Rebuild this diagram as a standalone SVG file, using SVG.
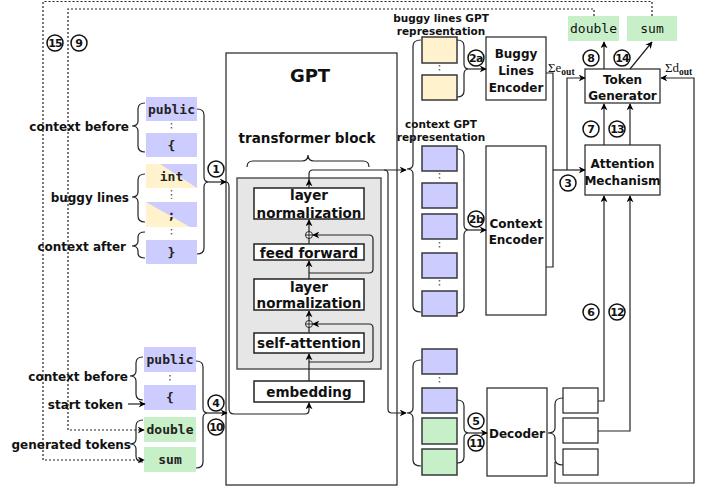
<svg xmlns="http://www.w3.org/2000/svg" width="715" height="491" viewBox="0 0 715 491">
<defs>
<marker id="ah" viewBox="0 0 10 10" refX="9" refY="5" markerWidth="7" markerHeight="7" orient="auto" markerUnits="userSpaceOnUse"><path d="M0,0 L10,5 L0,10 L3,5 z" fill="#000"/></marker>
<style>
.lbl{font-family:"DejaVu Sans",Verdana,sans-serif;font-weight:bold;fill:#111}
.code{font-family:"DejaVu Sans Mono","Liberation Mono",monospace;font-size:13px;fill:#111}
.codeb{font-family:"DejaVu Sans Mono","Liberation Mono",monospace;font-size:13px;font-weight:bold;fill:#222}
.ln{fill:none;stroke:#222;stroke-width:1.2}
.arr{fill:none;stroke:#222;stroke-width:1.2;marker-end:url(#ah)}
.dot{fill:none;stroke:#222;stroke-width:1.2;stroke-dasharray:2 2}
.vd{stroke:#666;stroke-width:1.5;stroke-dasharray:1.5 2.5}
.blue{fill:#CCCCFF}
.yel{fill:#FFF2CC}
.grn{fill:#C8F0C8}
.rep{stroke:#36393D;stroke-width:1.5}
.blk{fill:#fff;stroke:#222;stroke-width:1.5}
.box{fill:#fff;stroke:#222;stroke-width:1.2}
.num circle{fill:#fff;stroke:#111;stroke-width:1.5}
.num text{font-family:"DejaVu Sans",sans-serif;font-weight:bold;font-size:11px;fill:#111;text-anchor:middle}
</style>
</defs>

<!-- GPT -->
<g id="gpt">
<rect x="226" y="53" width="171" height="432" class="box"/>
<text x="310" y="82" class="lbl" font-size="18" text-anchor="middle">GPT</text>
<text x="307" y="143" class="lbl" font-size="13.5" text-anchor="middle">transformer block</text>
<path d="M247,167 Q247,161 253,161 L302,161 Q308,161 308,155 Q308,161 314,161 L363,161 Q369,161 369,167" class="ln"/>
</g>
<g id="transformer-block">
<rect x="237" y="178" width="144" height="191" fill="#E6E6E6" stroke="#555" stroke-width="1.5"/>
</g>
<g id="layer-norm-1">
<rect x="254" y="188" width="110" height="31" class="blk"/>
<text x="309" y="200" class="lbl" font-size="13.5" text-anchor="middle">layer</text>
<text x="309" y="218" class="lbl" font-size="13.5" text-anchor="middle">normalization</text>
</g>
<g id="feed-forward">
<rect x="254" y="244" width="110" height="16" class="blk"/>
<text x="309" y="257.5" class="lbl" font-size="13.5" text-anchor="middle">feed forward</text>
</g>
<g id="layer-norm-2">
<rect x="254" y="279" width="110" height="31" class="blk"/>
<text x="309" y="292" class="lbl" font-size="13.5" text-anchor="middle">layer</text>
<text x="309" y="308" class="lbl" font-size="13.5" text-anchor="middle">normalization</text>
</g>
<g id="self-attention">
<rect x="254" y="333" width="110" height="20" class="blk"/>
<text x="309" y="348" class="lbl" font-size="13.5" text-anchor="middle">self-attention</text>
</g>
<g id="embedding">
<rect x="254" y="381" width="110" height="21" class="blk"/>
<text x="309" y="397" class="lbl" font-size="13.5" text-anchor="middle">embedding</text>
</g>
<g id="add-1"><circle cx="309" cy="324" r="3.5" fill="#fff" stroke="#222" stroke-width="1"/><path d="M305.5,324 H312.5 M309,320.5 V327.5" stroke="#222" stroke-width="1"/></g>
<g id="add-2"><circle cx="309" cy="235" r="3.5" fill="#fff" stroke="#222" stroke-width="1"/><path d="M305.5,235 H312.5 M309,231.5 V238.5" stroke="#222" stroke-width="1"/></g>

<!-- input tokens top -->
<g id="input-top">
<rect x="146" y="97" width="51" height="24" class="blue"/>
<text x="171.5" y="113.5" class="codeb" text-anchor="middle">public</text>
<line x1="171.5" y1="123" x2="171.5" y2="131" class="vd"/>
<rect x="146" y="133" width="51" height="24" class="blue"/>
<text x="171.5" y="149.5" class="codeb" text-anchor="middle">{</text>
<polygon points="146,164 197,164 197,188 146,188" class="yel"/>
<polygon points="160,164 197,164 197,188" class="blue"/>
<text x="171.5" y="180.5" class="codeb" text-anchor="middle">int</text>
<line x1="171.5" y1="190" x2="171.5" y2="199" class="vd"/>
<polygon points="146,202 197,202 197,227 146,227" class="blue"/>
<polygon points="146,202 190,227 146,227" class="yel"/>
<text x="171.5" y="219" class="codeb" text-anchor="middle">;</text>
<line x1="171.5" y1="229" x2="171.5" y2="237" class="vd"/>
<rect x="146" y="240" width="51" height="24" class="blue"/>
<text x="171.5" y="256.5" class="codeb" text-anchor="middle">}</text>
<text x="129" y="131" class="lbl" font-size="12" text-anchor="end">context before</text>
<text x="129" y="201.5" class="lbl" font-size="12" text-anchor="end">buggy lines</text>
<text x="126" y="250.5" class="lbl" font-size="12" text-anchor="end">context after</text>
<path d="M145,103 Q138,103 138,109 L138,121 Q138,126 132,126 Q138,126 138,131 L138,146 Q138,152 145,152" class="ln"/>
<path d="M145,174 Q138,174 138,180 L138,192 Q138,197 132,197 Q138,197 138,202 L138,216 Q138,222 145,222" class="ln"/>
<path d="M145,232 Q138,232 138,237 L138,241 Q138,246 132,246 Q138,246 138,251 L138,253 Q138,258 145,258" class="ln"/>
</g>

<!-- input tokens bottom -->
<g id="input-bottom">
<rect x="144" y="347" width="52" height="25" class="blue"/>
<text x="170" y="364" class="codeb" text-anchor="middle">public</text>
<line x1="170" y1="375" x2="170" y2="383" class="vd"/>
<rect x="144" y="385" width="52" height="25" class="blue"/>
<text x="170" y="402" class="codeb" text-anchor="middle">{</text>
<rect x="144" y="417" width="52" height="25" class="grn"/>
<text x="170" y="434" class="codeb" text-anchor="middle">double</text>
<rect x="144" y="447" width="52" height="25" class="grn"/>
<text x="170" y="464" class="codeb" text-anchor="middle">sum</text>
<text x="128" y="380.5" class="lbl" font-size="12" text-anchor="end">context before</text>
<text x="123" y="408.5" class="lbl" font-size="12" text-anchor="end">start token</text>
<text x="131" y="448.5" class="lbl" font-size="12" text-anchor="end">generated tokens</text>
<path d="M143,357 Q136,357 136,363 L136,371 Q136,376 130,376 Q136,376 136,381 L136,394 Q136,400 143,400" class="ln"/>
<path d="M143,420 Q136,420 136,426 L136,439 Q136,444 130,444 Q136,444 136,449 L136,456 Q136,462 143,462" class="ln"/>
</g>

<!-- GPT representations -->
<g id="buggy-rep">
<text x="441" y="22" class="lbl" font-size="10.5" text-anchor="middle">buggy lines GPT</text>
<text x="441" y="35" class="lbl" font-size="10.5" text-anchor="middle">representation</text>
<rect x="422" y="37" width="35" height="26" class="yel rep"/>
<line x1="439.5" y1="65" x2="439.5" y2="73" class="vd"/>
<rect x="422" y="75" width="35" height="25" class="yel rep"/>
</g>
<g id="context-rep">
<text x="441" y="128" class="lbl" font-size="10.5" text-anchor="middle">context GPT</text>
<text x="441" y="141" class="lbl" font-size="10.5" text-anchor="middle">representation</text>
<rect x="422" y="146" width="35" height="25" class="blue rep"/>
<line x1="439.5" y1="173" x2="439.5" y2="181" class="vd"/>
<rect x="422" y="183" width="35" height="25" class="blue rep"/>
<rect x="422" y="214" width="35" height="25" class="blue rep"/>
<line x1="439.5" y1="242" x2="439.5" y2="250" class="vd"/>
<rect x="422" y="253" width="35" height="25" class="blue rep"/>
<line x1="439.5" y1="280" x2="439.5" y2="288" class="vd"/>
<rect x="422" y="291" width="35" height="25" class="blue rep"/>
</g>
<g id="decoder-rep">
<rect x="422" y="349" width="35" height="25" class="blue rep"/>
<line x1="439.5" y1="377" x2="439.5" y2="385" class="vd"/>
<rect x="422" y="388" width="35" height="25" class="blue rep"/>
<rect x="422" y="418" width="35" height="26" class="grn rep"/>
<rect x="422" y="449" width="35" height="26" class="grn rep"/>
</g>

<!-- encoders / decoder -->
<g id="buggy-lines-encoder">
<rect x="486" y="37" width="60" height="63" class="box"/>
<text x="516" y="58" class="lbl" font-size="12" text-anchor="middle">Buggy</text>
<text x="516" y="75" class="lbl" font-size="12" text-anchor="middle">Lines</text>
<text x="516" y="92" class="lbl" font-size="12" text-anchor="middle">Encoder</text>
</g>
<g id="context-encoder">
<rect x="486" y="146" width="60" height="169" class="box"/>
<text x="516" y="228" class="lbl" font-size="12" text-anchor="middle">Context</text>
<text x="516" y="244" class="lbl" font-size="12" text-anchor="middle">Encoder</text>
</g>
<g id="decoder">
<rect x="487" y="388" width="60" height="88" class="box"/>
<text x="517" y="437.5" class="lbl" font-size="12" text-anchor="middle">Decoder</text>
</g>
<g id="decoder-out">
<rect x="563" y="388" width="35" height="25" class="box"/>
<rect x="563" y="418" width="35" height="25" class="box"/>
<rect x="563" y="449" width="35" height="26" class="box"/>
</g>
<g id="attention-mechanism">
<rect x="585" y="145" width="75" height="50" class="box"/>
<text x="622.5" y="168" class="lbl" font-size="12" text-anchor="middle">Attention</text>
<text x="622.5" y="185" class="lbl" font-size="12" text-anchor="middle">Mechanism</text>
</g>
<g id="token-generator">
<rect x="585" y="69" width="75" height="34" class="box"/>
<text x="622.5" y="84" class="lbl" font-size="12" text-anchor="middle">Token</text>
<text x="622.5" y="100" class="lbl" font-size="12" text-anchor="middle">Generator</text>
</g>
<g id="out-double">
<rect x="568" y="16" width="51" height="25" class="grn"/>
<text x="593.5" y="33" class="code" text-anchor="middle">double</text>
</g>
<g id="out-sum">
<rect x="627" y="16" width="50" height="25" class="grn"/>
<text x="652" y="33" class="code" text-anchor="middle">sum</text>
</g>

<!-- connectors -->
<g id="connectors">
<path d="M197,109 Q204,109 204,115 L204,177 Q204,182 209,182 Q204,182 204,187 L204,248 Q204,254 197,254" class="ln"/>
<path d="M209,182 L226,182" class="arr"/>
<path d="M196,361 Q203,361 203,367 L203,408 Q203,413 208,413 Q203,413 203,418 L203,462 Q203,468 196,468" class="ln"/>
<path d="M208,413 L227,413" class="arr"/>
<path d="M226,182 Q229,182 229,187 L229,409 Q229,414 234,414 L305,414 Q309,414 309,410 L309,403" class="arr"/>
<path d="M309,381 L309,354" class="arr"/>
<path d="M309,362 L369,362 Q373,362 373,358 L373,328 Q373,324 369,324 L313,324" class="arr"/>
<path d="M309,333 L309,327.5" class="ln"/>
<path d="M309,320.5 L309,311" class="arr"/>
<path d="M309,279 L309,261" class="arr"/>
<path d="M309,273 L369,273 Q373,273 373,269 L373,239 Q373,235 369,235 L313,235" class="arr"/>
<path d="M309,244 L309,238.5" class="ln"/>
<path d="M309,231.5 L309,220" class="arr"/>
<path d="M309,188 L309,180" class="arr"/>
<path d="M309,181 L309,174 Q309,170 313,170 L406,170" class="arr"/>
<path d="M384,170 Q388,170 388,174 L388,409 Q388,413 392,413 L406,413" class="arr"/>
<path d="M421,40 Q413,40 413,46 L413,164 Q413,169 407,169 Q413,169 413,174 L413,306 Q413,312 421,312" class="ln"/>
<path d="M421,360 Q413,360 413,366 L413,408 Q413,413 407,413 Q413,413 413,418 L413,460 Q413,466 421,466" class="ln"/>
<path d="M457,40 Q464,40 464,46 L464,64 Q464,69 469,69 Q464,69 464,74 L464,91 Q464,97 457,97" class="ln"/>
<path d="M469,69 L486,69" class="arr"/>
<path d="M457,149 Q464,149 464,155 L464,225 Q464,230 469,230 Q464,230 464,235 L464,307 Q464,313 457,313" class="ln"/>
<path d="M469,230 L486,230" class="arr"/>
<path d="M457,400 Q464,400 464,406 L464,428 Q464,433 469,433 Q464,433 464,438 L464,457 Q464,463 457,463" class="ln"/>
<path d="M469,433 L487,433" class="arr"/>
<path d="M563,398 Q555,398 555,404 L555,428 Q555,433 548,433 Q555,433 555,438 L555,459 Q555,465 563,465" class="ln"/>
<path d="M546,73 L553,73 L553,267 L546,267" class="ln"/>
<path d="M553,170 L585,170" class="arr"/>
<path d="M567,170 L567,78 L585,78" class="arr"/>
<path d="M598,401 L604,401 L604,196" class="arr"/>
<path d="M598,431 L630,431 L630,196" class="arr"/>
<path d="M555,462 L555,483 L694,483 L694,78 L661,78" class="arr"/>
<path d="M604,145 L604,104" class="arr"/>
<path d="M630,145 L630,104" class="arr"/>
<path d="M604,69 L604,42" class="arr"/>
<path d="M630,69 L652,42" class="arr"/>
<path d="M594,16 L594,9 L68,9 L68,430 L144,430" class="dot" marker-end="url(#ah)"/>
<path d="M652,16 L652,1.5 L43,1.5 L43,460 L144,460" class="dot" marker-end="url(#ah)"/>
<path d="M128,404 L145,404" class="arr"/>
<text x="548" y="72" font-family="Liberation Serif,serif" font-size="13" fill="#111">Σe<tspan font-size="9.5" font-weight="bold" dy="3">out</tspan></text>
<text x="665" y="72" font-family="Liberation Serif,serif" font-size="13" fill="#111">Σd<tspan font-size="9.5" font-weight="bold" dy="3">out</tspan></text>
</g>

<!-- step numbers -->
<g class="num" id="steps">
<circle cx="55" cy="43" r="8"/><text x="55" y="47" letter-spacing="-0.8">15</text>
<circle cx="79" cy="43" r="8"/><text x="79" y="47">9</text>
<circle cx="216" cy="169" r="8"/><text x="216" y="173">1</text>
<circle cx="216" cy="403" r="8"/><text x="216" y="407">4</text>
<circle cx="216" cy="427" r="8"/><text x="216" y="431" letter-spacing="-0.8">10</text>
<circle cx="476" cy="58" r="8"/><text x="476" y="62" font-size="10" letter-spacing="-0.6">2a</text>
<circle cx="476" cy="219" r="8"/><text x="476" y="223" font-size="10" letter-spacing="-0.6">2b</text>
<circle cx="476" cy="421" r="8"/><text x="476" y="425">5</text>
<circle cx="476" cy="443" r="8"/><text x="476" y="447" letter-spacing="-0.8">11</text>
<circle cx="568" cy="183" r="8"/><text x="568" y="187">3</text>
<circle cx="591" cy="129" r="8"/><text x="591" y="133">7</text>
<circle cx="617" cy="129" r="8"/><text x="617" y="133" letter-spacing="-0.8">13</text>
<circle cx="591" cy="58" r="8"/><text x="591" y="62">8</text>
<circle cx="622" cy="58" r="8"/><text x="622" y="62" letter-spacing="-0.8">14</text>
<circle cx="591" cy="312" r="8"/><text x="591" y="316">6</text>
<circle cx="617" cy="312" r="8"/><text x="617" y="316" letter-spacing="-0.8">12</text>
</g>
</svg>
